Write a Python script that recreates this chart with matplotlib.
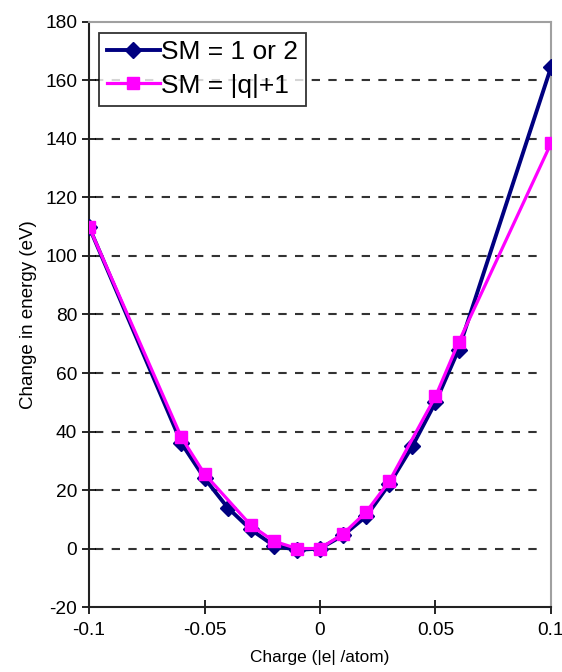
import matplotlib
matplotlib.use("Agg")
import matplotlib.pyplot as plt

plt.rcParams['font.family'] = ['Liberation Sans', 'DejaVu Sans']
plt.rcParams['axes.unicode_minus'] = False

x1 = [-0.1, -0.06, -0.05, -0.04, -0.03, -0.02, -0.01, 0.0, 0.01, 0.02, 0.03, 0.04, 0.05, 0.06, 0.1]
y1 = [110, 36, 24, 14, 6.5, 1, -0.5, 0, 4.5, 11, 22, 35, 50, 68, 164.5]
x2 = [-0.1, -0.06, -0.05, -0.03, -0.02, -0.01, 0.0, 0.01, 0.02, 0.03, 0.05, 0.06, 0.1]
y2 = [110, 38, 25.5, 8, 2.5, 0, 0, 5, 12.5, 23, 52, 70.5, 138.5]
labels = ["SM = 1 or 2", "SM = |q|+1"]

fig = plt.figure(figsize=(5.62, 6.72), dpi=100)
ax = fig.add_axes([0.1584, 0.0967, 0.822, 0.8706])

for yv in range(0, 170, 20):
    ax.axhline(yv, color='#333333', linestyle=(0, (4, 4)), linewidth=1.5, zorder=0,
               xmin=0.012, xmax=0.988)

ax.plot(x1, y1, color='#000080', marker='D', markersize=8, linewidth=2.8, label=labels[0], zorder=3)
ax.plot(x2, y2, color='#FF00FF', marker='s', markersize=8, linewidth=2.3, label=labels[1], zorder=4)

ax.set_xlim(-0.1, 0.1)
ax.set_ylim(-20, 180)
ax.set_xticks([-0.1, -0.05, 0, 0.05, 0.1])
ax.set_xticklabels(['-0.1', '-0.05', '0', '0.05', '0.1'])
ax.set_yticks(range(-20, 181, 20))

ax.tick_params(axis='both', direction='inout', length=10, width=1.2, labelsize=13.8, colors='black')
ax.tick_params(axis='x', pad=6)
for s in ['left', 'bottom']:
    ax.spines[s].set_linewidth(1.5)
    ax.spines[s].set_color('#222222')
for s in ['top', 'right']:
    ax.spines[s].set_linewidth(1.5)
    ax.spines[s].set_color('#a0a0a0')

ax.set_xlabel('Charge (|e| /atom)', fontsize=12.4, labelpad=8)
ax.set_ylabel('Change in energy (eV)', fontsize=13.5, labelpad=6)

leg = ax.legend(loc='upper left', bbox_to_anchor=(0.022, 0.982), fontsize=19, frameon=True,
                fancybox=False, edgecolor='black', handlelength=2.0, handletextpad=0.05,
                borderpad=0.3, labelspacing=0.35, borderaxespad=0)
leg.get_frame().set_linewidth(1.3)

fig.savefig('out.png', dpi=100)
